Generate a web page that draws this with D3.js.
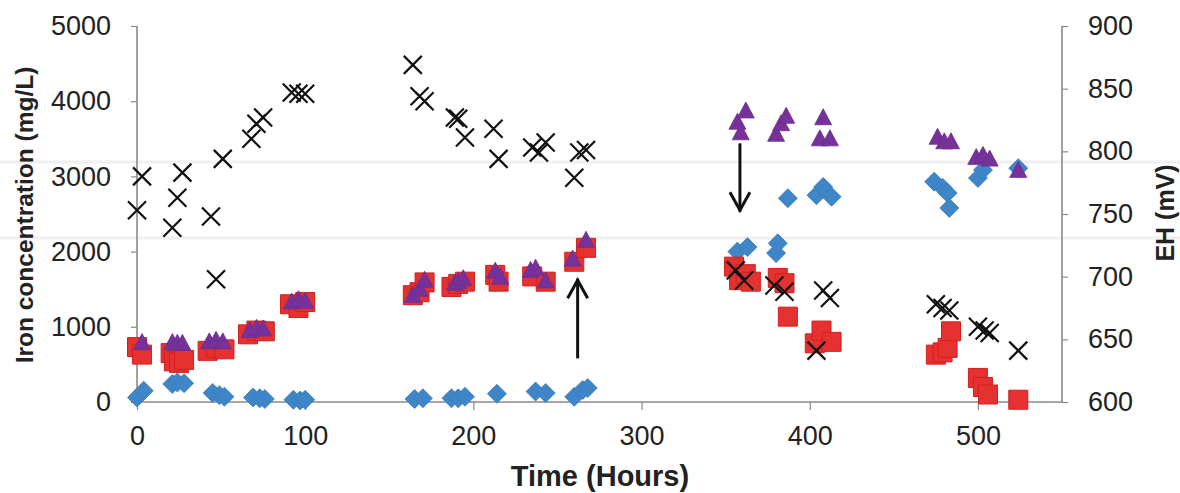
<!DOCTYPE html>
<html>
<head>
<meta charset="utf-8">
<script src="https://cdn.jsdelivr.net/npm/d3@7"></script>
<style>
  html, body { margin: 0; padding: 0; background: #fff; }
  svg { display: block; }
  text { font-family: "Liberation Sans", Arial, sans-serif; }
</style>
</head>
<body>
<svg id="chart" width="1180" height="493"></svg>
<script>
// ---------- DATA ----------
const xTicks = [0, 100, 200, 300, 400, 500];
const leftTicks = [0, 1000, 2000, 3000, 4000, 5000];
const rightTicks = [600, 650, 700, 750, 800, 850, 900];

// Blue diamonds (left axis, mg/L)
const diamondTime  = [0, 4, 21, 24, 28, 45, 49, 52, 69, 73, 76, 93, 97, 100,
                      165, 170, 187, 191, 195, 214, 237, 243, 260, 265, 268,
                      357, 363, 380, 381, 387, 404, 408, 413,
                      474, 479, 482, 483, 500, 503, 524];
const diamondValue = [60, 150, 240, 260, 250, 120, 90, 70, 60, 50, 40, 30, 20, 30,
                      40, 50, 50, 50, 70, 110, 140, 120, 70, 160, 185,
                      2000, 2060, 1980, 2110, 2710, 2750, 2860, 2730,
                      2930, 2850, 2780, 2580, 2980, 3085, 3110];

// Red squares (left axis, mg/L)
const squareTime  = [0, 3, 20, 22, 25, 28, 42, 47, 52, 66, 71, 76, 91, 96, 100,
                     164, 168, 171, 187, 191, 195, 213, 215, 235, 243, 260, 267,
                     355, 358, 362, 365, 381, 385, 387, 403, 407, 413,
                     475, 479, 482, 484, 500, 503, 506, 524];
const squareValue = [730, 630, 650, 540, 520, 560, 680, 720, 700, 900, 950, 940, 1300, 1250, 1330,
                     1420, 1460, 1590, 1530, 1570, 1600, 1690, 1600, 1670, 1600, 1865, 2050,
                     1800, 1620, 1700, 1600, 1650, 1580, 1135, 780, 950, 800,
                     630, 660, 720, 940, 320, 200, 100, 30];

// Purple triangles (left axis, mg/L)
const triangleTime  = [3, 21, 24, 27, 43, 47, 51, 67, 71, 75, 92, 96, 100,
                       164, 168, 171, 189, 191, 194, 213, 216, 234, 237, 243, 259, 267,
                       357, 359, 362, 380, 383, 386, 406, 408, 412,
                       476, 480, 484, 499, 503, 507, 524];
const triangleValue = [790, 790, 780, 780, 800, 820, 800, 950, 980, 970, 1330, 1360, 1340,
                       1420, 1500, 1620, 1580, 1600, 1640, 1740, 1660, 1750, 1780, 1610, 1900, 2150,
                       3720, 3580, 3870, 3560, 3700, 3800, 3500, 3780, 3500,
                       3520, 3460, 3460, 3250, 3280, 3230, 3080];

// Black crosses (right axis, EH mV)
const ehTime  = [0, 3, 21, 24, 27, 44, 47, 51, 68, 71, 75, 92, 96, 100,
                 164, 168, 171, 189, 191, 195, 212, 215, 235, 239, 243, 260, 263, 267,
                 356, 361, 379, 385, 404, 408, 412,
                 475, 479, 483, 500, 504, 507, 524];
const ehValue = [753, 780, 739, 763, 783, 748, 698, 794, 810, 822, 827, 847, 846, 846,
                 869, 844, 840, 827, 826, 811, 818, 794, 803, 799, 807, 779, 799, 801,
                 705, 697, 693, 688, 641, 689, 683,
                 678, 675, 673, 660, 657, 655, 641];

// Arrows (time, from, to in mg/L)
const arrowTime = [262, 358.5];
const arrowFrom = [600, 3420];
const arrowTo   = [1620, 2550];

// ---------- CHART ----------
const svg = d3.select("#chart");
const W = 1180, H = 493;
const x = d3.scaleLinear().domain([0, 550]).range([137, 1062]);
const yL = d3.scaleLinear().domain([0, 5000]).range([402, 26]);
const yR = d3.scaleLinear().domain([600, 900]).range([402, 26]);

// faint scan lines
svg.selectAll("line.scan").data([162, 238]).join("line")
  .attr("x1", 0).attr("x2", W).attr("y1", d => d).attr("y2", d => d)
  .attr("stroke", "#f0f0f0").attr("stroke-width", 3);

const axisColor = "#8a8a8a";
const tickFont = 27;
const fmt = d3.format("d");

// x axis
const gx = svg.append("g").attr("transform", `translate(0,${yL(0)})`)
  .call(d3.axisBottom(x).tickValues(xTicks).tickFormat(fmt).tickSize(8).tickPadding(16));
// left axis
const gl = svg.append("g").attr("transform", `translate(${x(0)},0)`)
  .call(d3.axisLeft(yL).tickValues(leftTicks).tickFormat(fmt).tickSize(6).tickPadding(20));
// right axis
const gr = svg.append("g").attr("transform", `translate(${x(550)},0)`)
  .call(d3.axisRight(yR).tickValues(rightTicks).tickFormat(fmt).tickSize(6).tickPadding(20));

[gx, gl, gr].forEach(g => {
  g.select(".domain").attr("stroke", axisColor).attr("stroke-width", 1.6);
  g.selectAll(".tick line").attr("stroke", axisColor).attr("stroke-width", 1.2);
  g.selectAll(".tick text").attr("fill", "#222").style("font-size", tickFont + "px")
    .style("font-family", "'Liberation Sans', Arial, sans-serif");
});
gx.select(".domain").attr("d", `M${x(0)},0H${x(550)}`);
gl.select(".domain").attr("d", `M0,${yL(5000)}V${yL(0)}`);
gr.select(".domain").attr("d", `M0,${yR(900)}V${yR(600)}`);
gx.selectAll(".tick text").attr("dy", "0.71em");

// axis titles
svg.append("text").attr("x", 600).attr("y", 486).attr("text-anchor", "middle")
  .style("font-size", "29px").style("font-weight", "bold").attr("fill", "#222")
  .text("Time (Hours)");
svg.append("text").attr("transform", "translate(33,215) rotate(-90)")
  .attr("text-anchor", "middle")
  .style("font-size", "24.5px").style("font-weight", "bold").attr("fill", "#222")
  .text("Iron concentration (mg/L)");
svg.append("text").attr("transform", "translate(1174,213) rotate(-90)")
  .attr("text-anchor", "middle")
  .style("font-size", "25px").style("font-weight", "bold").attr("fill", "#222")
  .text("EH (mV)");

// marks
const diamondPath = "M0,-9.5L9.5,0L0,9.5L-9.5,0Z";
const squarePath = "M-9.5,-9.5H9.5V9.5H-9.5Z";
const trianglePath = "M0,-9L8.5,7L-8.5,7Z";

const dData = diamondTime.map((t, i) => [t, diamondValue[i]]);
const sData = squareTime.map((t, i) => [t, squareValue[i]]);
const tData = triangleTime.map((t, i) => [t, triangleValue[i]]);
const eData = ehTime.map((t, i) => [t, ehValue[i]]);

svg.append("g").selectAll("path").data(dData).join("path")
  .attr("d", diamondPath)
  .attr("transform", d => `translate(${x(d[0])},${yL(d[1])})`)
  .attr("fill", "#3f86c9").attr("stroke", "#3a7bbb").attr("stroke-width", 0.8);

svg.append("g").selectAll("path").data(sData).join("path")
  .attr("d", squarePath)
  .attr("transform", d => `translate(${x(d[0])},${yL(d[1])})`)
  .attr("fill", "#e5312f").attr("stroke", "#d2201f").attr("stroke-width", 1);

svg.append("g").selectAll("path").data(tData).join("path")
  .attr("d", trianglePath)
  .attr("transform", d => `translate(${x(d[0])},${yL(d[1])})`)
  .attr("fill", "#76329a").attr("stroke", "#6c2d8e").attr("stroke-width", 0.8);

svg.append("g").selectAll("path").data(eData).join("path")
  .attr("d", "M-9,-9L9,9M-9,9L9,-9")
  .attr("transform", d => `translate(${x(d[0])},${yR(d[1])})`)
  .attr("fill", "none").attr("stroke", "#111").attr("stroke-width", 2.2);

// arrows
const arrows = arrowTime.map((t, i) => ({ t, from: arrowFrom[i], to: arrowTo[i] }));
const ga = svg.append("g").attr("stroke", "#111").attr("stroke-width", 3).attr("fill", "none")
  .attr("stroke-linecap", "square");
ga.selectAll("line").data(arrows).join("line")
  .attr("x1", d => x(d.t)).attr("x2", d => x(d.t))
  .attr("y1", d => yL(d.from)).attr("y2", d => yL(d.to));
ga.selectAll("path").data(arrows).join("path")
  .attr("d", d => {
    const px = x(d.t), py = yL(d.to);
    const dir = d.to > d.from ? 1 : -1;
    const hy = py + dir * 18;
    return `M${px - 10},${hy}L${px},${py}L${px + 10},${hy}`;
  })
  .attr("stroke-linecap", "butt").attr("stroke-linejoin", "miter");
</script>
</body>
</html>
